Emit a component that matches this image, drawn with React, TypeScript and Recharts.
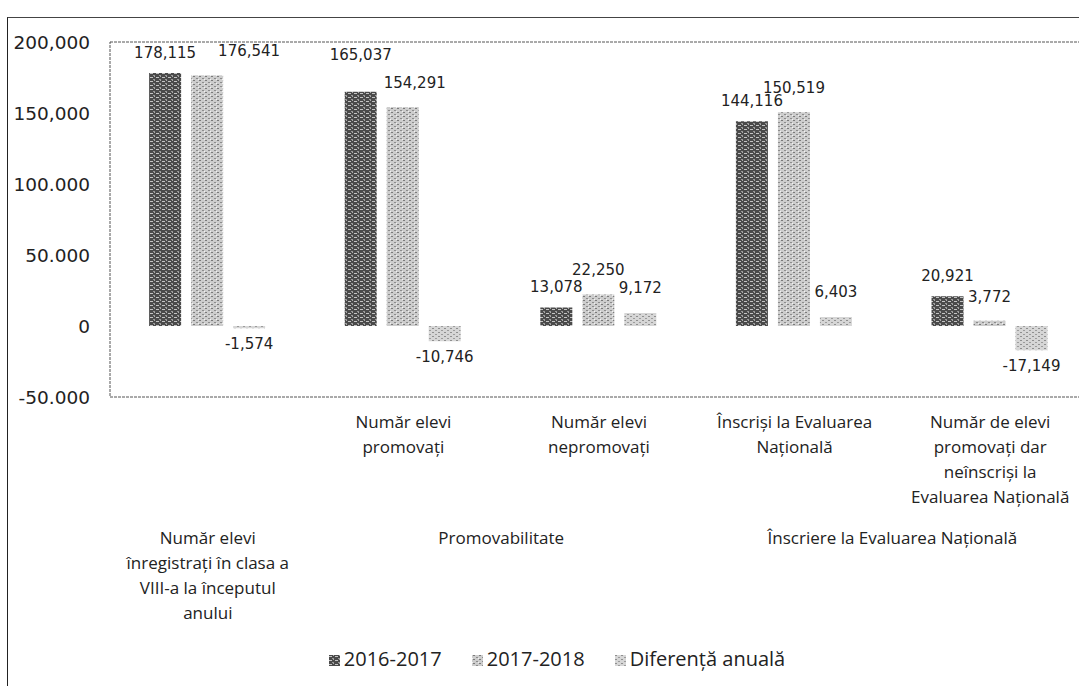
import { Bar, BarChart, LabelList, Legend, ReferenceArea, XAxis, YAxis } from "recharts";

// sub-category labels (first row under the axis)
const categories = [
  "",
  "Număr elevi\npromovați",
  "Număr elevi\nnepromovați",
  "Înscriși la Evaluarea\nNațională",
  "Număr de elevi\npromovați dar\nneînscriși la\nEvaluarea Națională",
];

// outer group labels (second row), each spanning a number of categories
const groupLabels = [
  "Număr elevi\nînregistrați în clasa a\nVIII-a la începutul\nanului",
  "Promovabilitate",
  "Înscriere la Evaluarea Națională",
];
const groupSpans = [1, 2, 2];

const seriesNames = ["2016-2017", "2017-2018", "Diferență anuală"];
const values2016 = [178115, 165037, 13078, 144116, 20921];
const values2017 = [176541, 154291, 22250, 150519, 3772];
const diffValues = [-1574, -10746, 9172, 6403, -17149];

const yTicks = [-50000, 0, 50000, 100000, 150000, 200000];
const yTickLabels = ["-50.000", "0", "50.000", "100.000", "150,000", "200,000"];

const CHART_W = 1090;
const CHART_H = 686;
const Y_AXIS_W = 110;
const MARGIN_RIGHT = 2;
const STEP = (CHART_W - Y_AXIS_W - MARGIN_RIGHT) / categories.length;
const BAR_GAP = 10;

const TEXT = "#222";
const LABEL_FONT = "'Open Sans', 'Noto Sans', sans-serif";
const NUM_FONT = "'DejaVu Sans', sans-serif";

const rows = categories.map((name, i) => ({
  name,
  a: values2016[i],
  b: values2017[i],
  d: diffValues[i],
}));

const fills = ["url(#pDark)", "url(#pLight)", "url(#pDiff)"];

function groupStartingAt(index: number) {
  let start = 0;
  for (let g = 0; g < groupLabels.length; g++) {
    if (start === index) return g;
    start += groupSpans[g];
  }
  return -1;
}

function CategoryTick(props: any) {
  const { x, y, payload } = props;
  const i = payload?.index ?? props.index ?? 0;
  const lines = String(payload?.value ?? "").split("\n").filter((l) => l !== "");
  const g = groupStartingAt(i);
  const gx = g >= 0 ? x + ((groupSpans[g] - 1) * STEP) / 2 : x;
  const glines = g >= 0 ? groupLabels[g].split("\n") : [];

  return (
    <g>
      {lines.length > 0 && (
        <text x={x} y={y} textAnchor="middle" fontFamily={LABEL_FONT} fontSize={17} fill={TEXT}>
          {lines.map((l, k) => (
            <tspan key={k} x={x} dy={k === 0 ? 23 : 25}>
              {l}
            </tspan>
          ))}
        </text>
      )}
      {glines.length > 0 && (
        <text x={gx} y={y} textAnchor="middle" fontFamily={LABEL_FONT} fontSize={17} fill={TEXT}>
          {glines.map((l, k) => (
            <tspan key={k} x={gx} dy={k === 0 ? 139 : 25}>
              {l}
            </tspan>
          ))}
        </text>
      )}
    </g>
  );
}

// kind: 0 = 2016-2017, 1 = 2017-2018, 2 = difference
function makeLabel(kind: number, gapAbove: number, gapBelow: number) {
  return function ValueLabel(props: any) {
    const vb = props.viewBox ?? props;
    const x = Number(vb.x ?? props.x);
    const y = Number(vb.y ?? props.y);
    const w = Number(vb.width ?? props.width);
    const h = Number(vb.height ?? props.height);
    const value = Number(props.value);
    const idx = Number(props.index ?? 0);
    const top = Math.min(y, y + h);
    const bottom = Math.max(y, y + h);
    const pxPerUnit = value !== 0 ? Math.abs(h) / Math.abs(value) : 0;

    let dx = 0;
    let above = gapAbove;
    // keep the two yearly labels of one category apart
    const sep = (values2016[idx] - values2017[idx]) * pxPerUnit;
    if (kind === 0 && sep >= 4 && sep < 20) above += 17;
    if (kind === 1 && Math.abs(sep) < 4) dx = w + BAR_GAP;
    else if (kind === 1 && sep >= 4 && sep < 20) dx = 12;

    const cx = x + w / 2 + dx;
    const ty = value >= 0 ? top - above : bottom + gapBelow;
    return (
      <text
        x={cx}
        y={ty}
        textAnchor="middle"
        dominantBaseline="central"
        fontFamily={NUM_FONT}
        fontSize={15}
        fill={TEXT}
      >
        {value.toLocaleString("en-US")}
      </text>
    );
  };
}

function LegendContent() {
  return (
    <div
      style={{
        display: "flex",
        justifyContent: "center",
        gap: "30px",
        marginLeft: "26px",
        fontFamily: LABEL_FONT,
        fontSize: "20px",
        color: TEXT,
        lineHeight: "38px",
      }}
    >
      {seriesNames.map((name, i) => (
        <span key={name} style={{ display: "flex", alignItems: "center", gap: "4px" }}>
          <svg width={11} height={11} style={{ marginTop: "3px" }}>
            <rect width={11} height={11} fill={fills[i]} />
          </svg>
          {name}
        </span>
      ))}
    </div>
  );
}

export default function App() {
  return (
    <div
      style={{
        position: "fixed",
        left: 0,
        top: 0,
        width: 1079,
        height: 686,
        overflow: "hidden",
        background: "#fff",
      }}
    >
      {/* scanned page frame */}
      <div
        style={{
          position: "absolute",
          left: 7,
          top: 17,
          width: 1200,
          height: 800,
          borderLeft: "1.5px solid #222",
          borderTop: "1.5px solid #444",
        }}
      />
      <div style={{ position: "absolute", left: 0, top: 0 }}>
        <BarChart
          width={CHART_W}
          height={CHART_H}
          data={rows}
          margin={{ top: 42, right: MARGIN_RIGHT, bottom: 8, left: 0 }}
          barCategoryGap="20%"
          barGap={BAR_GAP}
        >
          <defs>
            <pattern id="pDark" width="6" height="4" patternUnits="userSpaceOnUse">
              <rect width="6" height="4" fill="#4a4a4a" />
              <rect x="0" y="1" width="3" height="1" fill="#c4c4c4" />
              <rect x="3" y="3" width="2" height="1" fill="#999" />
              <rect x="4" y="0" width="1" height="1" fill="#aaa" />
            </pattern>
            <pattern id="pLight" width="6" height="4" patternUnits="userSpaceOnUse">
              <rect width="6" height="4" fill="#cdcdcd" />
              <rect x="1" y="0" width="2" height="1" fill="#7a7a7a" />
              <rect x="4" y="2" width="2" height="1" fill="#8c8c8c" />
              <rect x="0" y="3" width="1" height="1" fill="#f2f2f2" />
            </pattern>
            <pattern id="pDiff" width="6" height="4" patternUnits="userSpaceOnUse">
              <rect width="6" height="4" fill="#d6d6d6" />
              <rect x="0" y="0" width="2" height="1" fill="#8f8f8f" />
              <rect x="3" y="2" width="2" height="1" fill="#9c9c9c" />
            </pattern>
          </defs>
          <ReferenceArea
            y1={-50000}
            y2={200000}
            fill="none"
            stroke="#555"
            strokeWidth={1}
            strokeDasharray="3 1"
            ifOverflow="visible"
          />
          <XAxis
            dataKey="name"
            interval={0}
            axisLine={false}
            tickLine={false}
            height={243}
            tick={<CategoryTick />}
          />
          <YAxis
            width={Y_AXIS_W}
            domain={[-50000, 200000]}
            ticks={yTicks}
            axisLine={false}
            tickLine={false}
            tickMargin={14}
            tickFormatter={(v: number) => yTickLabels[yTicks.indexOf(v)] ?? String(v)}
            tick={{ fontFamily: NUM_FONT, fontSize: 18.5, fill: TEXT }}
          />
          <Legend verticalAlign="bottom" height={38} content={() => <LegendContent />} />
          <Bar dataKey="a" name={seriesNames[0]} fill={fills[0]} isAnimationActive={false}>
            <LabelList dataKey="a" content={makeLabel(0, 20, 16)} />
          </Bar>
          <Bar dataKey="b" name={seriesNames[1]} fill={fills[1]} isAnimationActive={false}>
            <LabelList dataKey="b" content={makeLabel(1, 24, 16)} />
          </Bar>
          <Bar dataKey="d" name={seriesNames[2]} fill={fills[2]} isAnimationActive={false}>
            <LabelList dataKey="d" content={makeLabel(2, 25, 16)} />
          </Bar>
        </BarChart>
      </div>
    </div>
  );
}
